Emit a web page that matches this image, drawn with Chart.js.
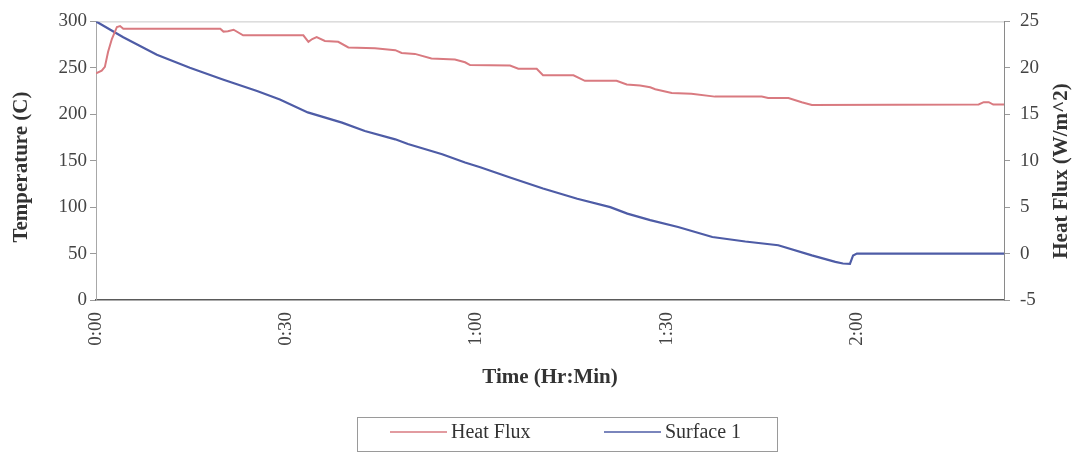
<!DOCTYPE html>
<html>
<head>
<meta charset="utf-8">
<script src="https://cdn.jsdelivr.net/npm/chart.js@4"></script>
<style>
  body { margin: 0; background: #ffffff; }
  canvas { display: block; }
</style>
</head>
<body>
<canvas id="grafico" width="1072" height="457"></canvas>
<script>
// tempo em minutos desde o inicio do ensaio
const tempoFluxo = [0, 0.9, 1.4, 1.9, 2.5, 3.3, 3.8, 4.3, 19.6, 20.1, 20.8, 21.7, 23.2,
  32.7, 33.5, 34.1, 34.8, 36.1, 38.2, 39.8, 44, 45.6, 47.2, 48.2, 50.3, 52.9,
  56.6, 58.2, 59, 65.3, 66.6, 69.5, 70.5, 75.3, 77.1, 82.1, 83.7, 85.8, 87.4, 88.2,
  90.8, 93.9, 97.6, 105, 106, 109.2, 111.3, 112.9, 139.2, 140, 140.8, 141.5, 143.2];
const fluxoCalor = [19.4, 19.7, 20.1, 21.7, 23.1, 24.4, 24.5, 24.2, 24.2, 23.9, 23.95, 24.1, 23.5,
  23.5, 22.8, 23.1, 23.3, 22.9, 22.8, 22.2, 22.1, 22.0, 21.9, 21.6, 21.5, 21.0,
  20.9, 20.6, 20.3, 20.25, 19.9, 19.9, 19.2, 19.2, 18.6, 18.6, 18.2, 18.1, 17.9, 17.7,
  17.3, 17.2, 16.9, 16.9, 16.75, 16.75, 16.3, 16.0, 16.05, 16.3, 16.3, 16.05, 16.05];

const tempoSuperficie = [0, 4.3, 9.6, 14.8, 20, 25.4, 29, 33.4, 38.8, 42.4, 47.2, 49.2,
  54.6, 58.2, 60.6, 65.3, 70.5, 75.9, 81.1, 83.8, 87.4, 91.8, 97.2, 102.4, 107.6,
  112.9, 116.6, 117.8, 118.9, 119.4, 120, 143.2];
const temperaturaSuperficie = [300, 283, 264, 250, 237.5, 225, 216, 202, 191, 182, 173, 168,
  157, 148, 143, 132, 120, 109, 100, 93, 86, 78.6, 67.8, 63, 59,
  48, 41, 39.3, 39, 48, 50, 50];

const tempoMax = 143.2;
const passoTempo = 30;
const tituloX = 'Time (Hr:Min)';
const tituloY = 'Temperature (C)';
const tituloY2 = 'Heat Flux (W/m^2)';

const fonteSerif = "'Liberation Serif', 'Times New Roman', serif";

function pontos(xs, ys) {
  return xs.map((x, i) => ({ x: x, y: ys[i] }));
}

function formatarHora(v) {
  const h = Math.floor(v / 60);
  const m = Math.round(v % 60);
  return h + ':' + String(m).padStart(2, '0');
}

// moldura superior, titulos dos eixos e legenda com caixa
const moldura = {
  id: 'moldura',
  beforeDatasetsDraw(chart) {
    const { ctx, chartArea: a } = chart;
    ctx.save();
    ctx.strokeStyle = '#c8c8c8';
    ctx.lineWidth = 1;
    ctx.beginPath();
    ctx.moveTo(a.left, a.top + 0.5);
    ctx.lineTo(a.right, a.top + 0.5);
    ctx.stroke();
    ctx.restore();
  },
  afterDraw(chart) {
    const { ctx, chartArea: a } = chart;
    ctx.save();
    ctx.fillStyle = '#333333';
    ctx.font = 'bold 21px ' + fonteSerif;
    ctx.textAlign = 'center';
    ctx.textBaseline = 'middle';
    ctx.fillText(tituloX, (a.left + a.right) / 2, 378);

    ctx.save();
    ctx.translate(22, 167);
    ctx.rotate(-Math.PI / 2);
    ctx.fillText(tituloY, 0, 0);
    ctx.restore();

    ctx.save();
    ctx.translate(1062, 171);
    ctx.rotate(-Math.PI / 2);
    ctx.fillText(tituloY2, 0, 0);
    ctx.restore();

    // legenda
    ctx.strokeStyle = '#9a9a9a';
    ctx.lineWidth = 1;
    ctx.strokeRect(357.5, 417.5, 420, 34);
    const itens = [
      { x: 390, texto: 'Heat Flux' },
      { x: 604, texto: 'Surface 1' }
    ];
    ctx.font = '20px ' + fonteSerif;
    ctx.textAlign = 'left';
    itens.forEach((item, i) => {
      const ds = chart.data.datasets[i];
      ctx.strokeStyle = ds.borderColor;
      ctx.lineWidth = 1.5;
      ctx.beginPath();
      ctx.moveTo(item.x, 432);
      ctx.lineTo(item.x + 57, 432);
      ctx.stroke();
      ctx.fillStyle = '#333333';
      ctx.fillText(ds.label, item.x + 61, 433);
    });
    ctx.restore();
  }
};

function criarGrafico() {
  const canvas = document.getElementById('grafico');
  const contexto = canvas.getContext('2d');

  new Chart(contexto, {
    type: 'line',
    data: {
      datasets: [
        {
          label: 'Heat Flux',
          data: pontos(tempoFluxo, fluxoCalor),
          borderColor: '#d97a80',
          borderWidth: 2,
          pointRadius: 0,
          tension: 0,
          yAxisID: 'y2'
        },
        {
          label: 'Surface 1',
          data: pontos(tempoSuperficie, temperaturaSuperficie),
          borderColor: '#4e5ca6',
          borderWidth: 2.2,
          pointRadius: 0,
          tension: 0,
          yAxisID: 'y'
        }
      ]
    },
    options: {
      responsive: false,
      animation: false,
      devicePixelRatio: 1,
      layout: { padding: { top: 20, left: 0, right: 0, bottom: 0 } },
      plugins: {
        legend: { display: false },
        tooltip: { enabled: false }
      },
      scales: {
        x: {
          type: 'linear',
          min: 0,
          max: tempoMax,
          afterFit: (s) => { s.height = 157; },
          grid: { drawOnChartArea: false, drawTicks: false },
          border: { color: '#5a5a5a', width: 1.5 },
          ticks: {
            stepSize: passoTempo,
            includeBounds: false,
            autoSkip: false,
            minRotation: 90,
            maxRotation: 90,
            padding: 12,
            color: '#444444',
            font: { family: fonteSerif, size: 19 },
            callback: (v) => formatarHora(v)
          }
        },
        y: {
          position: 'left',
          min: 0,
          max: 300,
          afterFit: (s) => { s.width = 96; },
          grid: { drawOnChartArea: false, tickLength: 6, color: '#9a9a9a' },
          border: { color: '#a8a8a8' },
          ticks: {
            stepSize: 50,
            padding: 3,
            color: '#444444',
            font: { family: fonteSerif, size: 19 }
          }
        },
        y2: {
          position: 'right',
          min: -5,
          max: 25,
          afterFit: (s) => { s.width = 68; },
          grid: { drawOnChartArea: false, tickLength: 6, color: '#9a9a9a' },
          border: { color: '#8a8a8a' },
          ticks: {
            stepSize: 5,
            padding: 10,
            color: '#444444',
            font: { family: fonteSerif, size: 19 }
          }
        }
      }
    },
    plugins: [moldura]
  });
}

document.addEventListener('DOMContentLoaded', criarGrafico);
</script>
</body>
</html>
